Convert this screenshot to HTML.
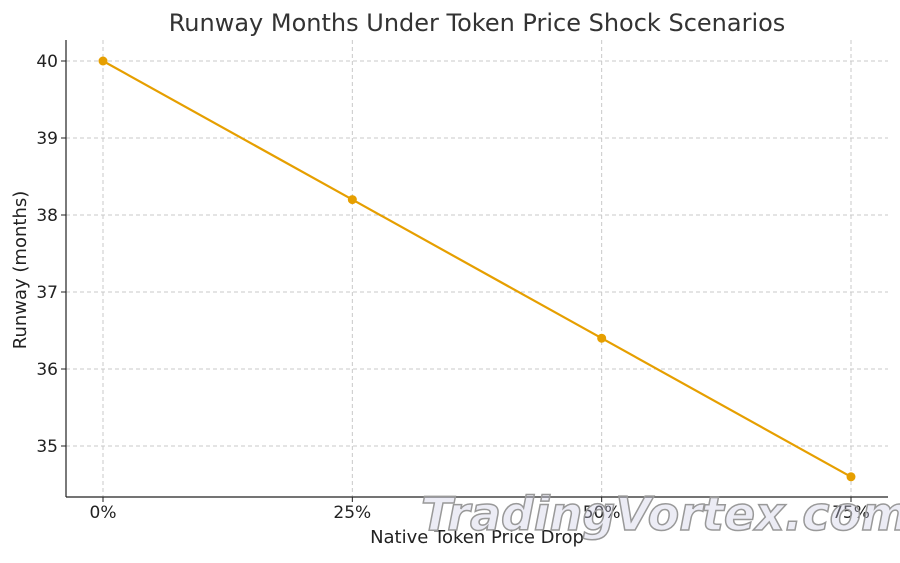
<!DOCTYPE html>
<html><head><meta charset="utf-8"><style>
body{margin:0;background:#fff;}
svg text{font-family:"DejaVu Sans","Liberation Sans",sans-serif;}
</style></head><body>
<svg id="chart" width="900" height="558" viewBox="0 0 900 558" xmlns="http://www.w3.org/2000/svg">
<rect width="900" height="558" fill="#fff"/>
<text x="477" y="31" text-anchor="middle" font-size="24" fill="#333">Runway Months Under Token Price Shock Scenarios</text>
<g id="grid"></g>
<g id="axes"></g>
<g id="series"></g>
<text x="477" y="543" text-anchor="middle" font-size="18" fill="#222">Native Token Price Drop</text>
<text transform="translate(26,270) rotate(-90)" text-anchor="middle" font-size="18" fill="#222">Runway (months)</text>
<text x="665" y="530" text-anchor="middle" font-size="46" font-style="italic" font-weight="bold" font-family="Liberation Serif,serif" fill="rgba(200,200,225,0.35)" stroke="#999" stroke-width="1.5">TradingVortex.com</text>
</svg>
<script>
const categories = ["0%","25%","50%","75%"];
const runway = [40, 38.2, 36.4, 34.6];
const yTicks = [35, 36, 37, 38, 39, 40];
const NS="http://www.w3.org/2000/svg";
const L=66,R=888,T=40,B=497;
function xScale(i){return 103+i*(851-103)/(categories.length-1);}
function yScale(v){return 61+(40-v)*77;}
function mk(tag,attrs,parent){const e=document.createElementNS(NS,tag);for(const k in attrs)e.setAttribute(k,attrs[k]);parent.appendChild(e);return e;}
const grid=document.getElementById('grid'),axes=document.getElementById('axes'),series=document.getElementById('series');
yTicks.forEach(v=>{const y=yScale(v);
 const g=mk('line',{x1:L,x2:R,y1:y,y2:y,stroke:'#c8c8c8','stroke-dasharray':'4,3'},grid);
 
 
 const t=mk('text',{x:L-8,y:y+6,'text-anchor':'end','font-size':17,fill:'#222'},axes);t.textContent=v;
 
 
 mk('line',{x1:L-5,x2:L,y1:y,y2:y,stroke:'#222'},axes);
});
categories.forEach((c,i)=>{const x=xScale(i);
 const g=mk('line',{x1:x,x2:x,y1:T,y2:B,stroke:'#c8c8c8','stroke-dasharray':'4,3'},grid);
 
 
 const t=mk('text',{x:x,y:518,'text-anchor':'middle','font-size':17,fill:'#222'},axes);t.textContent=c;
 
 
 mk('line',{x1:x,x2:x,y1:B,y2:B+5,stroke:'#222'},axes);
});
mk('line',{x1:L,x2:L,y1:T,y2:B,stroke:'#222','stroke-width':1.2},axes);
mk('line',{x1:L,x2:R,y1:B,y2:B,stroke:'#222','stroke-width':1.2},axes);
const pl=mk('polyline',{points:runway.map((v,i)=>xScale(i)+','+yScale(v)).join(' '),fill:'none',stroke:'#E69F00','stroke-width':2.2},series);


runway.forEach((v,i)=>{const c=mk('circle',{cx:xScale(i),cy:yScale(v),r:4.5,fill:'#E69F00'},series);
 
 
});
</script>
</body></html>
